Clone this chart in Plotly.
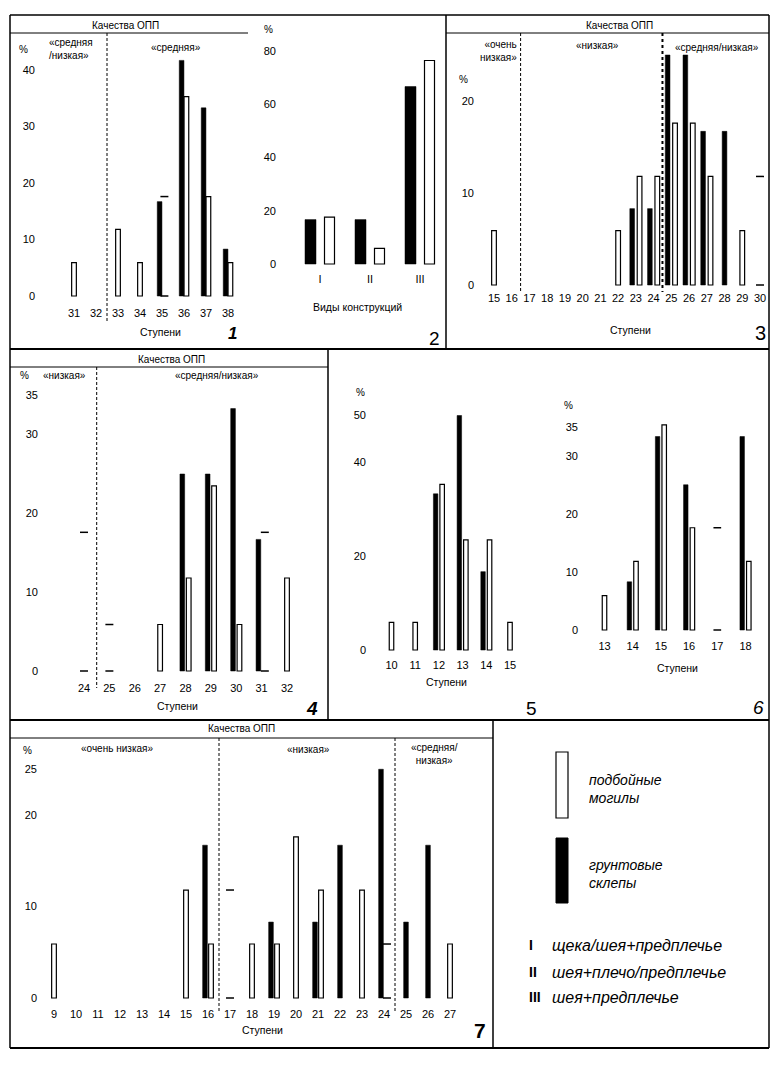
import plotly.graph_objects as go

W, H = 780, 1068
FONT = "Liberation Sans, Arial, sans-serif"

# ---------------- data ----------------
p1_steps = [31, 32, 33, 34, 35, 36, 37, 38]
p1_black = [None, None, None, None, 16.7, 41.7, 33.3, 8.3]
p1_white = [5.9, None, 11.8, 5.9, 17.6, 35.3, 17.6, 5.9]
p1_faint = [35]

p2_types = ["I", "II", "III"]
p2_black = [16.7, 16.7, 66.7]
p2_white = [17.6, 5.9, 76.5]

p3_steps = [15, 16, 17, 18, 19, 20, 21, 22, 23, 24, 25, 26, 27, 28, 29, 30]
p3_black = [None, None, None, None, None, None, None, None, 8.3, 8.3, 25.0, 25.0, 16.7, 16.7, None, None]
p3_white = [5.9, None, None, None, None, None, None, 5.9, 11.8, 11.8, 17.6, 17.6, 11.8, None, 5.9, 11.8]
p3_faint = [30]

p4_steps = [24, 25, 26, 27, 28, 29, 30, 31, 32]
p4_black = [None, None, None, None, 25.0, 25.0, 33.3, 16.7, None]
p4_white = [17.6, 5.9, None, 5.9, 11.8, 23.5, 5.9, 17.6, 11.8]
p4_faint = [24, 25, 31]

p5_steps = [10, 11, 12, 13, 14, 15]
p5_black = [None, None, 33.3, 50.0, 16.7, None]
p5_white = [5.9, 5.9, 35.3, 23.5, 23.5, 5.9]
p5_faint = []

p6_steps = [13, 14, 15, 16, 17, 18]
p6_black = [None, 8.3, 33.3, 25.0, None, 33.3]
p6_white = [5.9, 11.8, 35.3, 17.6, 17.6, 11.8]
p6_faint = [17]

p7_steps = [9, 10, 11, 12, 13, 14, 15, 16, 17, 18, 19, 20, 21, 22, 23, 24, 25, 26, 27]
p7_black = [None, None, None, None, None, None, None, 16.7, None, None, 8.3, None, 8.3, 16.7, None, 25.0, 8.3, 16.7, None]
p7_white = [5.9, None, None, None, None, None, 11.8, 5.9, 11.8, 5.9, 5.9, 17.6, 11.8, None, 11.8, 5.9, None, None, 5.9]
p7_faint = [17, 24]

legend_numerals = ["I", "II", "III"]
legend_texts = ["щека/шея+предплечье", "шея+плечо/предплечье", "шея+предплечье"]

# ---------------- helpers ----------------
fig = go.Figure()
layout = {}
shapes = []
annotations = []
FINE_DASH = "3px,2px"


def names(i):
    return ("x" if i == 1 else f"x{i}"), ("y" if i == 1 else f"y{i}")


def setup_axes(i, dx, dy, xmap, base, uy, yticks, xvals, xtext):
    c_a, p_a, c_b, p_b = xmap
    ux = (p_b - p_a) / (c_b - c_a)
    xr = [c_a + (dx[0] - p_a) / ux, c_a + (dx[1] - p_a) / ux]
    yr = [(base - dy[1]) / uy, (base - dy[0]) / uy]
    xn, yn = names(i)
    common = dict(showgrid=False, zeroline=False, showline=False, ticks="",
                  tickfont=dict(size=11, family=FONT, color="black"), fixedrange=True)
    layout["xaxis" if i == 1 else f"xaxis{i}"] = dict(
        domain=[dx[0] / W, dx[1] / W], range=xr, anchor=yn,
        tickmode="array", tickvals=xvals, ticktext=xtext, **common)
    layout["yaxis" if i == 1 else f"yaxis{i}"] = dict(
        domain=[1 - dy[1] / H, 1 - dy[0] / H], range=yr, anchor=xn,
        tickmode="array", tickvals=yticks, ticktext=[str(v) for v in yticks], **common)
    return ux


def draw_bars(i, xs, black, white, faint, ux, off_px, wb_px, ww_px):
    xn, yn = names(i)
    off = off_px / ux
    bx, by, wx, wy, gx, gy = [], [], [], [], [], []
    for c, b, w in zip(xs, black, white):
        pair = b is not None and w is not None
        if b is not None:
            bx.append(c - off if pair else c)
            by.append(b)
        if w is not None:
            xp = c + off if pair else c
            if c in faint:
                gx += [xp, xp]
                gy += [w, 0]
            else:
                wx.append(xp)
                wy.append(w)
    fig.add_trace(go.Bar(x=bx, y=by, width=wb_px / ux, xaxis=xn, yaxis=yn,
                         marker=dict(color="black", line=dict(color="black", width=0.5)),
                         name="грунтовые склепы", showlegend=False))
    fig.add_trace(go.Bar(x=wx, y=wy, width=ww_px / ux, xaxis=xn, yaxis=yn,
                         marker=dict(color="white", line=dict(color="black", width=1.2)),
                         name="подбойные могилы", showlegend=False))
    if gx:
        fig.add_trace(go.Scatter(x=gx, y=gy, mode="markers", xaxis=xn, yaxis=yn,
                                 marker=dict(symbol="line-ew", size=ww_px + 1,
                                             line=dict(color="black", width=1.5)),
                                 showlegend=False, hoverinfo="skip"))


def line(x0, y0, x1, y1, w=1.5, dash=None):
    shapes.append(dict(type="line", xref="paper", yref="paper",
                       x0=x0 / W, x1=x1 / W, y0=1 - y0 / H, y1=1 - y1 / H,
                       line=dict(color="black", width=w, dash=dash)))


def vdiv(i, xval, ytop, ybot, w=1, dash=FINE_DASH):
    xn, _ = names(i)
    shapes.append(dict(type="line", xref=xn, yref="paper", x0=xval, x1=xval,
                       y0=1 - ytop / H, y1=1 - ybot / H,
                       line=dict(color="black", width=w, dash=dash)))


def txt(s, x, y, size=10, xanchor="center", italic=False, bold=False, align="center"):
    if italic:
        s = f"<i>{s}</i>"
    if bold:
        s = f"<b>{s}</b>"
    annotations.append(dict(text=s, x=x / W, y=1 - y / H, xref="paper", yref="paper",
                            xanchor=xanchor, yanchor="middle", showarrow=False, align=align,
                            font=dict(size=size, family=FONT, color="black")))


# ---------------- panel 1 ----------------
u1 = setup_axes(1, (36, 246), (45, 305), (31, 74, 38, 228), 296, 5.65,
                [0, 10, 20, 30, 40], p1_steps, [str(s) for s in p1_steps])
draw_bars(1, p1_steps, p1_black, p1_white, p1_faint, u1, 2.4, 4.7, 4.7)
vdiv(1, 32.5, 33, 322)
txt("%", 23, 49, 10)
txt("«средняя<br>/низкая»", 47, 49, 10, xanchor="left", align="left")
txt("«средняя»", 176, 47, 10)
txt("Качества ОПП", 125, 25, 10)
txt("Ступени", 160, 332, 10.5)
txt("1", 232, 333, 17, italic=True, bold=True)

# ---------------- panel 2 ----------------
p2_x = [k + 1 for k in range(len(p2_types))]
u2 = setup_axes(2, (277, 440), (40, 271), (1, 320, 3, 420), 264, 2.66,
                [0, 20, 40, 60, 80], p2_x, p2_types)
draw_bars(2, p2_x, p2_black, p2_white, [], u2, 9.5, 11, 10)
txt("%", 268, 30, 10)
txt("Виды конструкций", 357, 307, 10.5)
txt("2", 434, 338, 19)

# ---------------- panel 3 ----------------
u3 = setup_axes(3, (475, 766), (50, 290), (15, 494, 30, 760), 285, 9.2,
                [0, 10, 20], p3_steps, [str(s) for s in p3_steps])
draw_bars(3, p3_steps, p3_black, p3_white, p3_faint, u3, 3.7, 4.7, 4.7)
vdiv(3, 16.5, 33, 292)
vdiv(3, 24.5, 33, 292, w=2, dash="dot")
txt("Качества ОПП", 619, 25, 10)
txt("«очень<br>низкая»", 519, 51, 10, xanchor="right", align="right")
txt("«низкая»", 597, 45, 10)
txt("«средняя/низкая»", 717, 47, 10)
txt("%", 463, 80, 10)
txt("Ступени", 630, 330, 10.5)
txt("3", 760, 333, 20)

# ---------------- panel 4 ----------------
u4 = setup_axes(4, (39, 323), (380, 680), (24, 84, 32, 287), 671, 7.88,
                [0, 10, 20, 30, 35], p4_steps, [str(s) for s in p4_steps])
draw_bars(4, p4_steps, p4_black, p4_white, p4_faint, u4, 3.2, 4.7, 4.7)
vdiv(4, 24.5, 367, 688)
txt("Качества ОПП", 171, 359, 10)
txt("%", 25, 375, 10)
txt("«низкая»", 64, 375, 10)
txt("«средняя/низкая»", 217, 375, 10)
txt("Ступени", 177, 706, 10.5)
txt("4", 312, 708, 19, italic=True, bold=True)

# ---------------- panel 5 ----------------
u5 = setup_axes(5, (367, 540), (400, 657), (10, 391.5, 15, 510), 650, 4.69,
                [0, 20, 40, 50], p5_steps, [str(s) for s in p5_steps])
draw_bars(5, p5_steps, p5_black, p5_white, p5_faint, u5, 3.25, 4.5, 4.5)
txt("%", 360, 393, 10)
txt("Ступени", 447, 682, 10.5)
txt("5", 531, 708, 19)

# ---------------- panel 6 ----------------
u6 = setup_axes(6, (579, 763), (410, 638), (13, 604.5, 18, 745.5), 630, 5.81,
                [0, 10, 20, 30, 35], p6_steps, [str(s) for s in p6_steps])
draw_bars(6, p6_steps, p6_black, p6_white, p6_faint, u6, 3.3, 4.5, 4.5)
txt("%", 568, 405, 10)
txt("Ступени", 677, 668, 10.5)
txt("6", 758, 707, 19, italic=True)

# ---------------- panel 7 ----------------
u7 = setup_axes(7, (38, 488), (755, 1006), (9, 54, 27, 450), 998, 9.15,
                [0, 10, 20, 25], p7_steps, [str(s) for s in p7_steps])
draw_bars(7, p7_steps, p7_black, p7_white, p7_faint, u7, 3.0, 4.7, 4.7)
vdiv(7, 16.5, 738, 1012)
vdiv(7, 24.5, 738, 1012)
txt("Качества ОПП", 241, 729, 10)
txt("%", 28, 750, 10)
txt("«очень низкая»", 117, 748, 10)
txt("«низкая»", 308, 749, 10)
txt("«средняя/<br>низкая»", 434, 754, 10)
txt("Ступени", 262, 1030, 10.5)
txt("7", 480, 1030, 21, bold=True)

# ---------------- legend panel ----------------
shapes.append(dict(type="rect", xref="paper", yref="paper", x0=556 / W, x1=568 / W,
                   y0=1 - 818 / H, y1=1 - 752 / H, fillcolor="white",
                   line=dict(color="black", width=1.2)))
shapes.append(dict(type="rect", xref="paper", yref="paper", x0=556 / W, x1=568 / W,
                   y0=1 - 903 / H, y1=1 - 838 / H, fillcolor="black",
                   line=dict(color="black", width=1)))
txt("подбойные<br>могилы", 587, 789, 14, xanchor="left", italic=True, align="left")
txt("грунтовые<br>склепы", 587, 874, 14, xanchor="left", italic=True, align="left")
for k, (num, label) in enumerate(zip(legend_numerals, legend_texts)):
    yy = [945, 972, 997][k]
    txt(num, 527, yy, 14, xanchor="left", bold=True)
    txt(label, 550, yy, 16, xanchor="left", italic=True)

# ---------------- frames ----------------
R = 769
line(10, 15, R, 15)
line(10, 15, 10, 1048)
line(R, 15, R, 1048)
line(446, 15, 446, 349)
line(10, 33, 248, 33, 1)
line(446, 33, R, 33, 1)
line(10, 349, R, 349, 2)
line(10, 367, 328, 367, 1)
line(328, 349, 328, 720, 1.5)
line(10, 720, R, 720, 2)
line(10, 738, 493, 738, 1)
line(493, 720, 493, 1048, 1.5)
line(10, 1048, R, 1048, 2)

layout.update(dict(width=W, height=H, autosize=False,
                   margin=dict(l=0, r=0, t=0, b=0, pad=0),
                   paper_bgcolor="white", plot_bgcolor="white",
                   barmode="overlay", showlegend=False,
                   shapes=shapes, annotations=annotations,
                   font=dict(family=FONT, color="black")))
fig.update_layout(**layout)

fig.write_html("out.html", config={"displayModeBar": False, "staticPlot": True},
               post_script="document.body.style.margin='0';document.body.style.overflow='hidden';")
